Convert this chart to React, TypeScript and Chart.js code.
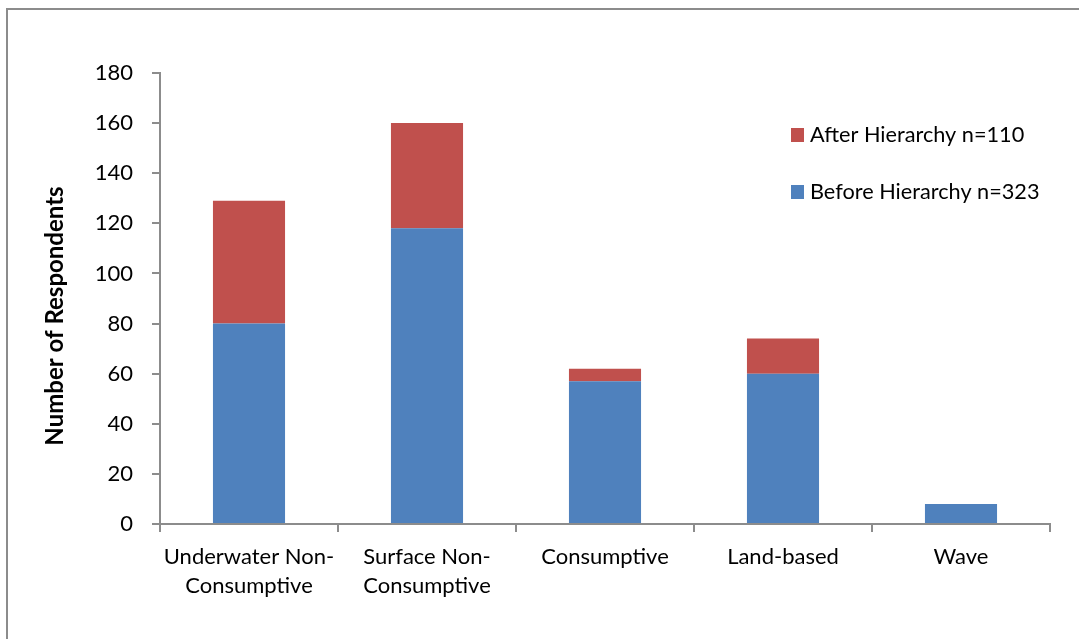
import React, { useEffect, useRef } from 'react';
import { Chart, registerables } from 'chart.js';

Chart.register(...registerables);

const categories: (string | string[])[] = [
  ['Underwater Non-', 'Consumptive'],
  ['Surface Non-', 'Consumptive'],
  'Consumptive',
  'Land-based',
  'Wave',
];
const beforeValues = [80, 118, 57, 60, 8];
const afterValues = [49, 42, 5, 14, 0];
const beforeLabel = 'Before Hierarchy n=323';
const afterLabel = 'After Hierarchy n=110';
const yAxisTitle = 'Number of Respondents';
const yMin = 0;
const yMax = 180;
const yStep = 20;

const FONT = 'Lato';
const AXIS_COLOR = '#8c8c8c';
const BLUE = '#4F81BD';
const RED = '#C0504D';

const overlayPlugin = {
  id: 'overlay',
  afterDraw(chart: any) {
    const { ctx } = chart;
    ctx.save();
    // y-axis title
    ctx.fillStyle = '#000';
    ctx.font = `bold 24px ${FONT}`;
    ctx.textAlign = 'center';
    ctx.textBaseline = 'middle';
    ctx.translate(55, 316);
    ctx.rotate(-Math.PI / 2);
    ctx.fillText(yAxisTitle, 0, 0);
    ctx.restore();

    // legend (reverse order, inside plot area)
    ctx.save();
    const items = [...chart.data.datasets].reverse();
    items.forEach((ds: any, i: number) => {
      const y = 135 + i * 57;
      ctx.fillStyle = ds.backgroundColor;
      ctx.fillRect(791, y - 7, 13, 14);
      ctx.fillStyle = '#000';
      ctx.font = `21.7px ${FONT}`;
      ctx.textAlign = 'left';
      ctx.textBaseline = 'middle';
      ctx.fillText(ds.label, 810, y);
    });
    ctx.restore();
  },
};

export default function App() {
  const canvasRef = useRef<HTMLCanvasElement | null>(null);

  useEffect(() => {
    if (!canvasRef.current) return;
    const chart = new Chart(canvasRef.current, {
      type: 'bar',
      data: {
        labels: categories,
        datasets: [
          {
            label: beforeLabel,
            data: beforeValues,
            backgroundColor: BLUE,
            borderWidth: 0,
            categoryPercentage: 1,
            barPercentage: 0.405,
          },
          {
            label: afterLabel,
            data: afterValues,
            backgroundColor: RED,
            borderWidth: 0,
            categoryPercentage: 1,
            barPercentage: 0.405,
          },
        ],
      },
      options: {
        responsive: false,
        animation: false,
        layout: { padding: { top: 73, right: 29, left: 0, bottom: 0 } },
        plugins: {
          legend: { display: false },
          tooltip: { enabled: false },
          title: { display: false },
        },
        scales: {
          x: {
            stacked: true,
            afterFit: (scale: any) => {
              scale.height = 115;
            },
            grid: {
              offset: true,
              drawOnChartArea: false,
              drawTicks: true,
              tickLength: 8,
              color: AXIS_COLOR,
              lineWidth: 2,
            },
            border: { color: AXIS_COLOR, width: 2 },
            ticks: {
              color: '#000',
              font: { family: FONT, size: 22, lineHeight: 1.32 },
              padding: 10,
              maxRotation: 0,
              autoSkip: false,
            },
          },
          y: {
            stacked: true,
            min: yMin,
            max: yMax,
            afterFit: (scale: any) => {
              scale.width = 160;
            },
            grid: {
              drawOnChartArea: false,
              drawTicks: true,
              tickLength: 8,
              color: AXIS_COLOR,
              lineWidth: 2,
            },
            border: { color: AXIS_COLOR, width: 2 },
            ticks: {
              stepSize: yStep,
              color: '#000',
              font: { family: FONT, size: 22 },
              padding: 19,
            },
          },
        },
      },
      plugins: [overlayPlugin],
    });
    return () => chart.destroy();
  }, []);

  return (
    <div
      style={{
        position: 'fixed',
        left: 0,
        top: 0,
        width: 1079,
        height: 639,
        background: '#fff',
        overflow: 'hidden',
      }}
    >
      <div
        style={{
          position: 'absolute',
          left: 6,
          top: 8,
          width: 1200,
          height: 800,
          border: '2px solid #8c8c8c',
        }}
      />
      <canvas
        ref={canvasRef}
        width={1079}
        height={639}
        style={{ position: 'absolute', left: 0, top: 0 }}
      />
    </div>
  );
}
